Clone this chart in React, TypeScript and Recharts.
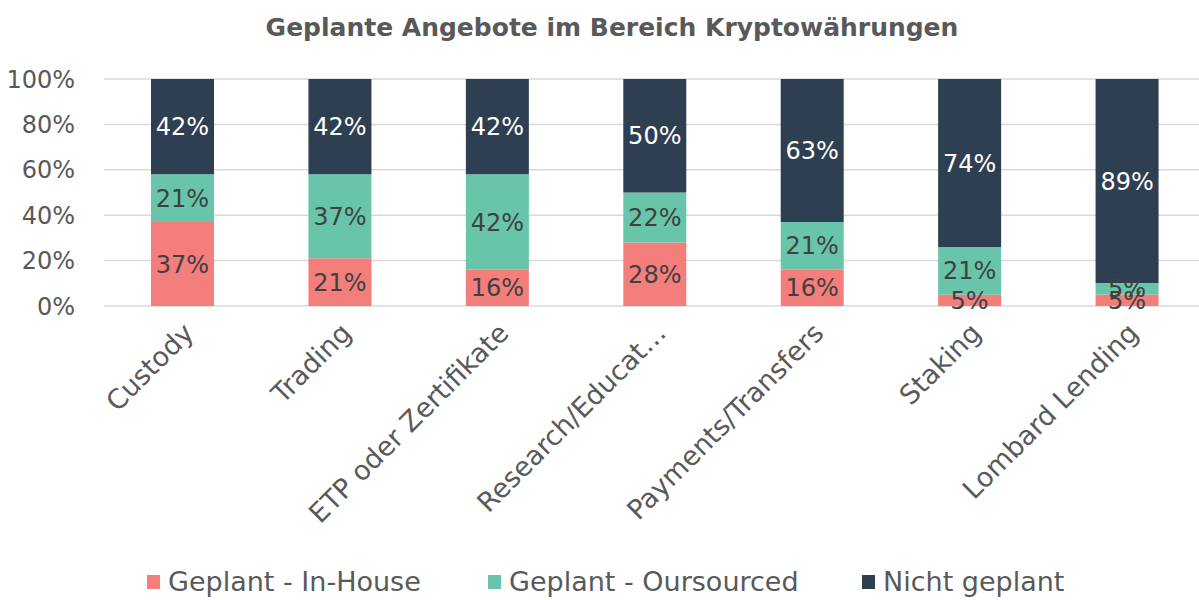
import { Bar, BarChart, CartesianGrid, LabelList, XAxis, YAxis } from "recharts";

const categories = [
  "Custody",
  "Trading",
  "ETP oder Zertifikate",
  "Research/Educat…",
  "Payments/Transfers",
  "Staking",
  "Lombard Lending",
];
const inHouse = [37, 21, 16, 28, 16, 5, 5];
const outsourced = [21, 37, 42, 22, 21, 21, 5];
const notPlanned = [42, 42, 42, 50, 63, 74, 89];
const yTicks = [0, 0.2, 0.4, 0.6, 0.8, 1];

const COLORS = {
  inHouse: "#F47E7B",
  outsourced: "#68C5A9",
  notPlanned: "#2E3F51",
  text: "#595959",
  label: "#404040",
  grid: "#D9D9D9",
};

const FONT = "'DejaVu Sans', sans-serif";

const data = categories.map((name, i) => ({
  name,
  inHouse: inHouse[i],
  outsourced: outsourced[i],
  notPlanned: notPlanned[i],
}));

const legendItems = [
  { label: "Geplant - In-House", color: COLORS.inHouse, left: 147 },
  { label: "Geplant - Oursourced", color: COLORS.outsourced, left: 488 },
  { label: "Nicht geplant", color: COLORS.notPlanned, left: 862 },
];

function XTick({ x, y, payload }: any) {
  return (
    <g transform={`translate(${x + 6},${y + 14})`}>
      <text
        textAnchor="end"
        transform="rotate(-45)"
        fill={COLORS.text}
        fontSize={27}
        fontFamily={FONT}
        dy="0.35em"
      >
        {payload.value}
      </text>
    </g>
  );
}

const pct = (v: any) => `${v}%`;
const axisPct = (v: any) => `${Math.round(Number(v) * 100)}%`;

export default function App() {
  return (
    <div
      style={{
        position: "absolute",
        left: 0,
        top: 0,
        width: 1199,
        height: 600,
        overflow: "hidden",
        background: "#fff",
        fontFamily: FONT,
      }}
    >
      <div
        style={{
          position: "absolute",
          top: 13,
          left: 0,
          width: 1224,
          textAlign: "center",
          fontSize: 25,
          fontWeight: "bold",
          color: COLORS.text,
        }}
      >
        Geplante Angebote im Bereich Kryptowährungen
      </div>
      <BarChart
        width={1210}
        height={600}
        data={data}
        stackOffset="expand"
        margin={{ top: 79, right: 4, bottom: 0, left: 0 }}
        barSize={63}
      >
        <CartesianGrid vertical={false} stroke={COLORS.grid} strokeWidth={1.5} />
        <XAxis
          dataKey="name"
          interval={0}
          height={294}
          axisLine={false}
          tickLine={false}
          tick={<XTick />}
        />
        <YAxis
          domain={[0, 1]}
          ticks={yTicks}
          tickFormatter={axisPct}
          width={104}
          axisLine={false}
          tickLine={false}
          tickMargin={23}
          tick={{ fill: COLORS.text, fontSize: 24, fontFamily: FONT }}
        />
        <Bar dataKey="inHouse" stackId="a" fill={COLORS.inHouse} isAnimationActive={false}>
          <LabelList
            dataKey="inHouse"
            position="center"
            formatter={pct}
            fill={COLORS.label}
            fontSize={24}
            fontFamily={FONT}
          />
        </Bar>
        <Bar dataKey="outsourced" stackId="a" fill={COLORS.outsourced} isAnimationActive={false}>
          <LabelList
            dataKey="outsourced"
            position="center"
            formatter={pct}
            fill={COLORS.label}
            fontSize={24}
            fontFamily={FONT}
          />
        </Bar>
        <Bar dataKey="notPlanned" stackId="a" fill={COLORS.notPlanned} isAnimationActive={false}>
          <LabelList
            dataKey="notPlanned"
            position="center"
            formatter={pct}
            fill="#ffffff"
            fontSize={24}
            fontFamily={FONT}
          />
        </Bar>
      </BarChart>
      {legendItems.map((item) => (
        <div
          key={item.label}
          style={{
            position: "absolute",
            top: 566,
            left: item.left,
            display: "flex",
            alignItems: "center",
            gap: 8,
            fontSize: 27,
            color: COLORS.text,
            whiteSpace: "nowrap",
          }}
        >
          <div style={{ width: 13, height: 14, background: item.color }} />
          <span>{item.label}</span>
        </div>
      ))}
    </div>
  );
}
